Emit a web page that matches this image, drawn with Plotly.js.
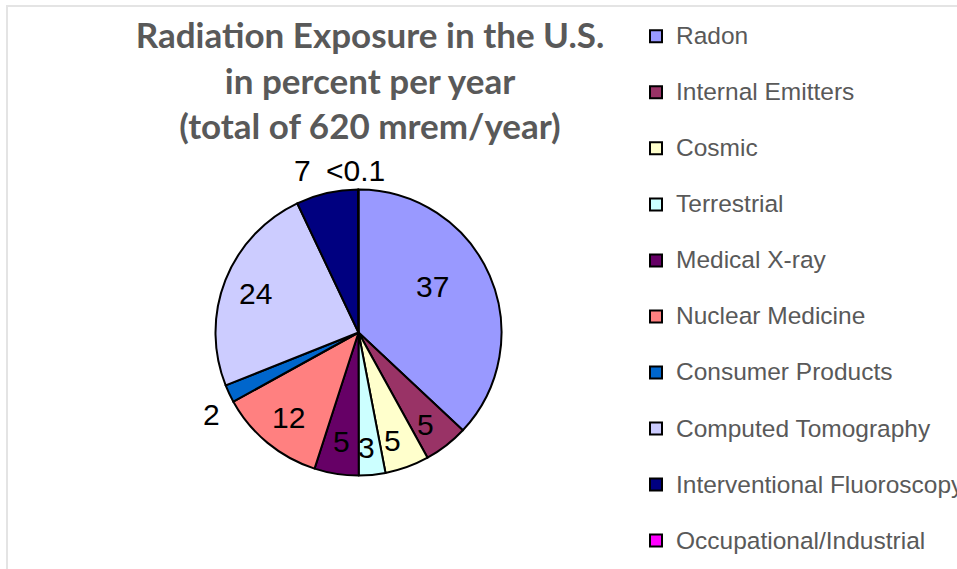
<!DOCTYPE html>
<html>
<head>
<meta charset="utf-8">
<script src="https://cdn.plot.ly/plotly-3.0.1.min.js"></script>
<style>
html,body{margin:0;padding:0;background:#fff;}
#wrap{position:relative;width:957px;height:569px;overflow:hidden;}
#chart{position:absolute;left:0;top:0;width:957px;height:569px;}
#frame{position:absolute;left:6px;top:5px;width:960px;height:600px;border-left:2px solid #e4e4e4;border-top:2px solid #e4e4e4;pointer-events:none;}
</style>
</head>
<body>
<div id="wrap">
<div id="chart"></div>
<div id="frame"></div>
</div>
<script>
// ---- data ----
var categories = ["Radon", "Internal Emitters", "Cosmic", "Terrestrial", "Medical X-ray",
  "Nuclear Medicine", "Consumer Products", "Computed Tomography",
  "Interventional Fluoroscopy", "Occupational/Industrial"];
var percents = [37, 5, 5, 3, 5, 12, 2, 24, 7, 0.05];
var valueLabels = ["37", "5", "5", "3", "5", "12", "2", "24", "7", "<0.1"];

// ---- style ----
var colors = ["#9999FF", "#993366", "#FFFFCC", "#CCFFFF", "#660066",
  "#FF8080", "#0066CC", "#CCCCFF", "#000080", "#FF00FF"];
// label placement (fraction of radius, angular nudge in degrees)
var labelRadius = [0.608, 0.80, 0.79, 0.806, 0.775, 0.77, 1.18, 0.77, 1.197, 1.133];
var labelNudge = [-8.5, 1.8, 2.3, 1.4, 0.1, -0.1, -3.9, -0.5, -6.3, -0.9];

var W = 957, H = 569;
var cx = 358.5, cy = 332.5, r = 143;

var legendLabels = categories.map(function (c) {
  return "<span style='font-size:24.5px'>" + c + "</span><br> ";
});

var trace = {
  type: "pie",
  labels: legendLabels,
  values: percents,
  textinfo: "none",
  sort: false,
  direction: "clockwise",
  rotation: 0,
  marker: {colors: colors, line: {color: "#000000", width: 2}},
  domain: {x: [(cx - r) / W, (cx + r) / W], y: [(H - cy - r) / H, (H - cy + r) / H]},
  hoverinfo: "none"
};

// labels placed through the pie's own geometry (cumulative share -> angle)
var total = percents.reduce(function (a, b) { return a + b; }, 0);
var annotations = [];
var cum = 0;
for (var i = 0; i < percents.length; i++) {
  var mid = (cum + percents[i] / 2) / total;
  cum += percents[i];
  var th = (mid * 360 + labelNudge[i]) * Math.PI / 180;
  var px = cx + labelRadius[i] * r * Math.sin(th);
  var py = cy - labelRadius[i] * r * Math.cos(th);
  annotations.push({
    text: valueLabels[i],
    x: px / W, y: 1 - py / H, xref: "paper", yref: "paper",
    xanchor: "center", yanchor: "middle", showarrow: false,
    yshift: 0,
    font: {family: "Liberation Sans, Arial, sans-serif", size: 30, color: "#000000"}
  });
}

var layout = {
  width: W, height: H,
  margin: {l: 0, r: 0, t: 0, b: 0, autoexpand: false},
  paper_bgcolor: "#ffffff",
  showlegend: true,
  annotations: annotations,
  title: {
    text: "<b>Radiation Exposure in the U.S.<br>in percent per year<br>(total of 620 mrem/year)</b>",
    font: {family: "Lato, Carlito, Calibri, sans-serif", size: 35, color: "#595959"},
    x: 370 / W, xanchor: "center", xref: "paper",
    y: 1 - 48 / H, yanchor: "top", yref: "container"
  },
  legend: {
    x: 636 / W, xanchor: "left",
    y: 1 - 16.5 / H, yanchor: "top",
    valign: "top",
    font: {family: "Liberation Sans, Arial, sans-serif", size: 20.4, color: "#595959"},
    bgcolor: "rgba(0,0,0,0)",
    itemclick: false, itemdoubleclick: false
  }
};

Plotly.newPlot("chart", [trace], layout, {displayModeBar: false, staticPlot: true});
</script>
</body>
</html>
